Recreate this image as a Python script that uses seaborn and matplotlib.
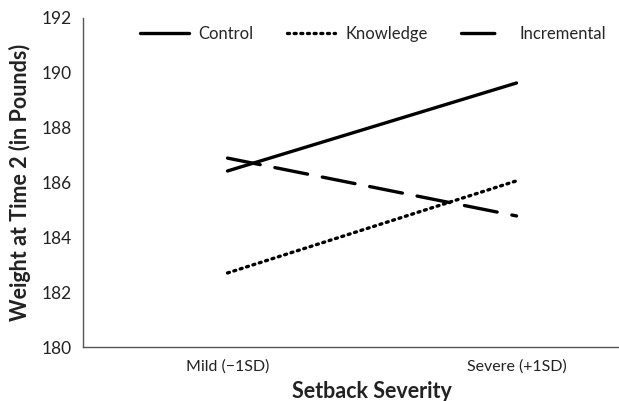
import pandas as pd
import seaborn as sns
import matplotlib.pyplot as plt

# data
severity = ["Mild (\u22121SD)", "Severe (+1SD)"]
control = [186.42, 189.63]
knowledge = [182.70, 186.06]
incremental = [186.89, 184.78]
conditions = ["Control", "Knowledge", "Incremental"]

rows = []
for name, vals in zip(conditions, [control, knowledge, incremental]):
    for i, v in enumerate(vals):
        rows.append({"x": i, "weight": v, "condition": name})
df = pd.DataFrame(rows)

sns.set_style("white")
plt.rcParams['font.family'] = ['Lato', 'DejaVu Sans']

fig = plt.figure(figsize=(6.19, 4.01), dpi=100)
ax = fig.add_axes([83 / 619, 54 / 401, 578 / 619, 329 / 401])

sns.lineplot(data=df, x="x", y="weight", style="condition", hue="condition",
             palette=["black"] * 3, style_order=conditions, hue_order=conditions,
             dashes={"Control": "", "Knowledge": (0.6, 1.4), "Incremental": (10, 4.5)},
             linewidth=2.4, ax=ax, legend=True)

for ln in ax.get_lines():
    ln.set_dash_capstyle("round")

ax.set_xlim(-0.5, 1.5)
ax.set_ylim(180, 192)
ax.set_yticks(range(180, 193, 2))
ax.set_xticks([-0.5, 0.5, 1.5])
ax.set_xticklabels([])
ax.set_xticks([0, 1], minor=True)
ax.set_xticklabels(severity, minor=True)
ax.tick_params(axis="x", which="minor", length=0, labelsize=11.5, pad=9, colors="#222222")
ax.tick_params(axis="x", which="major", length=5, direction="out", color="#555555")
ax.tick_params(axis="y", length=5, direction="out", color="#555555", labelsize=12.5, labelcolor="#222222", pad=3)

sns.despine(ax=ax)
for s in ["left", "bottom"]:
    ax.spines[s].set_color("#555555")
    ax.spines[s].set_linewidth(1.0)

ax.set_xlabel("Setback Severity", fontsize=15.5, fontweight="bold", labelpad=5, color="#222222")
ax.set_ylabel("Weight at Time 2 (in Pounds)", fontsize=15.5, fontweight="bold", labelpad=8, color="#222222")

leg = ax.legend(loc="center left", bbox_to_anchor=(0.099, 0.951), ncol=3, frameon=False,
                fontsize=12, handlelength=2.9, columnspacing=2.0, handletextpad=0.6,
                borderpad=0, borderaxespad=0)
for h in leg.get_lines():
    h.set_linewidth(2.4)
    h.set_color("black")

fig.savefig("out.png", dpi=100)
